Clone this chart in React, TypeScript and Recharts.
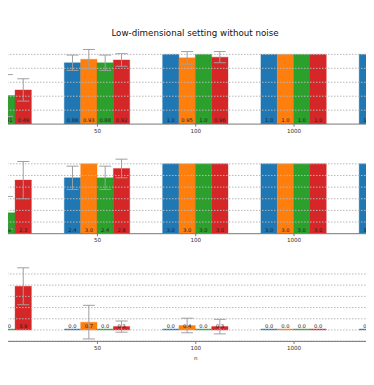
import React from 'react';
import { BarChart, Bar, XAxis, YAxis, ErrorBar, LabelList, ReferenceLine } from 'recharts';

const categories = ['10', '50', '100', '1000', '10000'];
const colors = ['#1f77b4', '#ff7f0e', '#2ca02c', '#d62728'];
const title = 'Low-dimensional setting without noise';
const xLabel = 'n';

// Panel 1
const p1Blue = [0.4, 0.88, 1.0, 1.0, 1.0];
const p1Orange = [0.45, 0.93, 0.95, 1.0, 1.0];
const p1Green = [0.41, 0.88, 1.0, 1.0, 1.0];
const p1Red = [0.49, 0.92, 0.96, 1.0, 1.0];
const p1BlueErr = [0.3, 0.11, 0, 0, 0];
const p1OrangeErr = [0.3, 0.14, 0.09, 0, 0];
const p1GreenErr = [0.3, 0.11, 0, 0, 0];
const p1RedErr = [0.16, 0.09, 0.08, 0, 0];
const p1Ticks = [0.2, 0.4, 0.6, 0.8, 1.0];

// Panel 2
const p2Blue = [0.9, 2.4, 3.0, 3.0, 3.0];
const p2Orange = [2.0, 3.0, 3.0, 3.0, 3.0];
const p2Green = [0.9, 2.4, 3.0, 3.0, 3.0];
const p2Red = [2.3, 2.8, 3.0, 3.0, 3.0];
const p2BlueErr = [0.7, 0.5, 0, 0, 0];
const p2OrangeErr = [0.8, 0, 0, 0, 0];
const p2GreenErr = [0.7, 0.5, 0, 0, 0];
const p2RedErr = [0.8, 0.4, 0, 0, 0];
const p2Ticks = [0.5, 1.0, 1.5, 2.0, 2.5, 3.0];

// Panel 3
const p3Blue = [0.0, 0.0, 0.0, 0.0, 0.0];
const p3Orange = [0.5, 0.7, 0.4, 0.0, 0.0];
const p3Green = [0.0, 0.0, 0.0, 0.0, 0.0];
const p3Red = [3.9, 0.3, 0.3, 0.0, 0.0];
const p3BlueErr = [0, 0, 0, 0, 0];
const p3OrangeErr = [1.0, 1.5, 0.65, 0, 0];
const p3GreenErr = [0, 0, 0, 0, 0];
const p3RedErr = [1.65, 0.5, 0.65, 0, 0];
const p3Ticks = [-1, 0, 1, 2, 3, 4, 5];

const buildRows = (vals: number[][], errs: number[][]) =>
  categories.map((c, i) => ({
    cat: c,
    v0: vals[0][i], v1: vals[1][i], v2: vals[2][i], v3: vals[3][i],
    e0: errs[0][i], e1: errs[1][i], e2: errs[2][i], e3: errs[3][i],
  }));

const panels = [
  {
    rows: buildRows([p1Blue, p1Orange, p1Green, p1Red], [p1BlueErr, p1OrangeErr, p1GreenErr, p1RedErr]),
    domain: [0, 1.12], ticks: p1Ticks, plotTop: 45.9, plotBottom: 124, showX: false,
  },
  {
    rows: buildRows([p2Blue, p2Orange, p2Green, p2Red], [p2BlueErr, p2OrangeErr, p2GreenErr, p2RedErr]),
    domain: [0, 3.25], ticks: p2Ticks, plotTop: 157.6, plotBottom: 233.3, showX: false,
  },
  {
    rows: buildRows([p3Blue, p3Orange, p3Green, p3Red], [p3BlueErr, p3OrangeErr, p3GreenErr, p3RedErr]),
    domain: [-1.02, 5.8], ticks: p3Ticks, plotTop: 265.3, plotBottom: 341.7, showX: true,
  },
];

const FONT = 'DejaVu Sans, sans-serif';
const fmt = (v: number) => (Number.isInteger(v) ? v.toFixed(1) : String(v));

const ValueLabel = (props: any) => {
  const { x, y, width, height, value } = props;
  if (value === undefined || value === null) return null;
  const bottom = Number(y) + Math.max(0, Number(height));
  return (
    <text
      x={Number(x) + Number(width) / 2}
      y={bottom - 1.6}
      textAnchor="middle"
      fontSize={5.2}
      fontFamily={FONT}
      fill="#222"
    >
      {fmt(Number(value))}
    </text>
  );
};

const PLOT_LEFT = -49.9;
const PLOT_WIDTH = 491.5;
const MT = 5;
const XH = 22;

export default function App() {
  return (
    <div style={{ position: 'relative', width: 374, height: 385, overflow: 'hidden', margin: '-8px 0 0 -8px', background: '#fff' }}>
      <svg style={{ position: 'absolute', left: 0, top: 0 }} width={374} height={45}>
        <text x={195} y={35.6} textAnchor="middle" fontSize={8.7} fontFamily={FONT} fill="#111">
          {title}
        </text>
      </svg>
      {panels.map((p, pi) => {
        const plotH = p.plotBottom - p.plotTop;
        const H = plotH + MT + XH;
        return (
          <div key={pi} style={{ position: 'absolute', left: PLOT_LEFT, top: p.plotTop - MT }}>
            <BarChart
              width={PLOT_WIDTH}
              height={H}
              data={p.rows}
              margin={{ top: MT, right: 0, bottom: 0, left: 0 }}
              barGap={0}
              barSize={16.35}
            >
              <YAxis hide type="number" domain={p.domain} ticks={p.ticks} allowDataOverflow />
              <XAxis
                dataKey="cat"
                height={XH}
                interval={0}
                axisLine={{ stroke: '#777', strokeWidth: 1 }}
                tickLine={{ stroke: '#777' }}
                tickSize={2.5}
                tick={{ fontSize: 5.6, fontFamily: FONT, fill: '#333' }}
                label={p.showX ? { value: xLabel, position: 'insideBottom', offset: 3, fontSize: 5.6, fontFamily: FONT, fill: '#333' } : undefined}
              />
              {p.ticks.map((t) => (
                <ReferenceLine key={t} y={t} stroke="#b8b8b8" strokeDasharray="1.5 1.5" strokeWidth={1} ifOverflow="visible" />
              ))}
              {[0, 1, 2, 3].map((k) => (
                <Bar
                  key={k}
                  dataKey={`v${k}`}
                  fill={colors[k]}
                  stroke={colors[k]}
                  strokeOpacity={0.45}
                  strokeWidth={0.8}
                  minPointSize={1}
                  isAnimationActive={false}
                >
                  <ErrorBar dataKey={`e${k}`} width={6} stroke="#a0a0a0" strokeWidth={1} direction="y" />
                  <LabelList dataKey={`v${k}`} content={ValueLabel} />
                </Bar>
              ))}
            </BarChart>
          </div>
        );
      })}
    </div>
  );
}
